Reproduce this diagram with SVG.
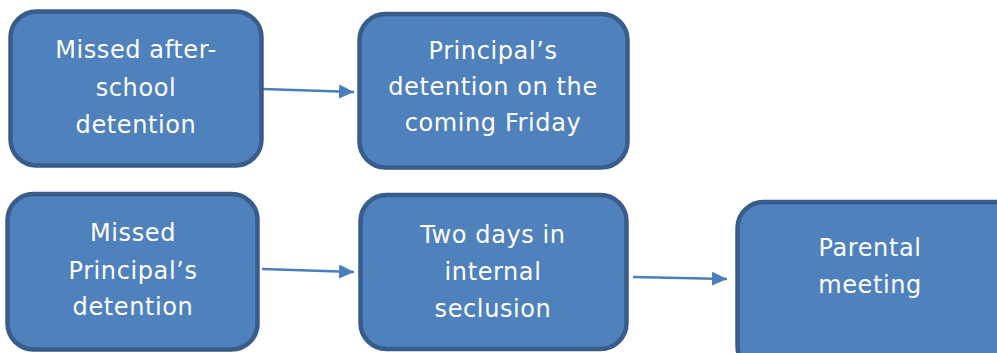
<svg xmlns="http://www.w3.org/2000/svg" width="997" height="353" viewBox="0 0 997 353">
<style>
.box{fill:#4f81bd;stroke:#385d8a;stroke-width:4.5}
.lbl{fill:#ffffff;font-family:"DejaVu Sans","Liberation Sans",sans-serif;font-size:24px;letter-spacing:0.6px;text-anchor:middle}
.conn{stroke:#4a7ebb;stroke-width:2.5;fill:none}
</style>
<defs>
<marker id="ah" markerUnits="userSpaceOnUse" markerWidth="16" markerHeight="14" refX="15" refY="7" orient="auto">
<path d="M0,0 L15,7 L0,14 Z" fill="#4a7ebb"/>
</marker>
</defs>
<rect width="997" height="353" fill="#ffffff"/>
<g id="connectors">
<line class="conn" x1="263" y1="89" x2="354" y2="92" marker-end="url(#ah)"/>
<line class="conn" x1="262" y1="269" x2="354" y2="272" marker-end="url(#ah)"/>
<line class="conn" x1="633" y1="277" x2="727" y2="279" marker-end="url(#ah)"/>
</g>
<g id="n1">
<rect class="box" x="10.5" y="11.5" width="251" height="154" rx="26"/>
<text class="lbl" x="136" y="58">Missed after-</text>
<text class="lbl" x="136" y="96">school</text>
<text class="lbl" x="136" y="133">detention</text>
</g>
<g id="n2">
<rect class="box" x="359.5" y="14" width="268" height="153.5" rx="26"/>
<text class="lbl" x="493" y="59">Principal’s</text>
<text class="lbl" x="493" y="95">detention on the</text>
<text class="lbl" x="493" y="131">coming Friday</text>
</g>
<g id="n3">
<rect class="box" x="7.5" y="194" width="250" height="155.5" rx="26"/>
<text class="lbl" x="133" y="241">Missed</text>
<text class="lbl" x="133" y="279">Principal’s</text>
<text class="lbl" x="133" y="315">detention</text>
</g>
<g id="n4">
<rect class="box" x="360.5" y="195" width="266" height="154" rx="26"/>
<text class="lbl" x="493" y="243">Two days in</text>
<text class="lbl" x="493" y="280">internal</text>
<text class="lbl" x="493" y="317">seclusion</text>
</g>
<g id="n5">
<rect class="box" x="737.5" y="202" width="290" height="170" rx="26"/>
<text class="lbl" x="870" y="256">Parental</text>
<text class="lbl" x="870" y="293">meeting</text>
</g>
</svg>
